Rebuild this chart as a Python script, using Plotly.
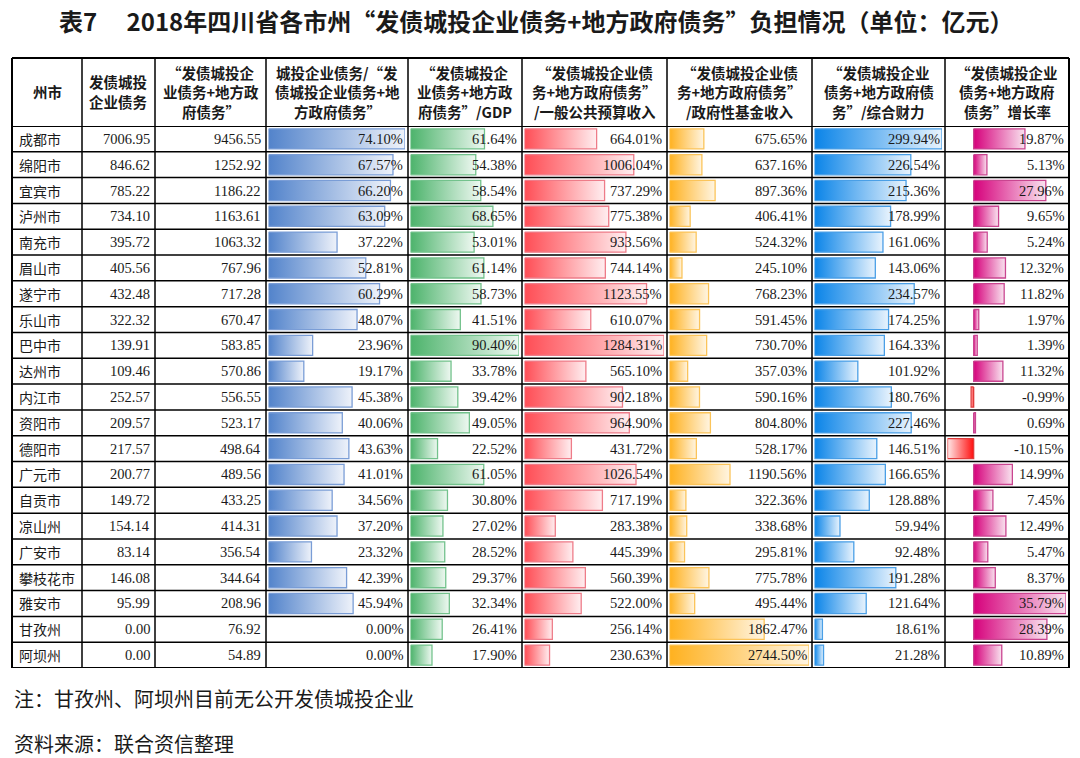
import plotly.graph_objects as go

# ---------------- data ----------------
cities = ["成都市", "绵阳市", "宜宾市", "泸州市", "南充市", "眉山市", "遂宁市", "乐山市", "巴中市", "达州市",
          "内江市", "资阳市", "德阳市", "广元市", "自贡市", "凉山州", "广安市", "攀枝花市", "雅安市", "甘孜州", "阿坝州"]
chengtou_debt = [7006.95, 846.62, 785.22, 734.10, 395.72, 405.56, 432.48, 322.32, 139.91, 109.46,
                 252.57, 209.57, 217.57, 200.77, 149.72, 154.14, 83.14, 146.08, 95.99, 0.00, 0.00]
total_debt = [9456.55, 1252.92, 1186.22, 1163.61, 1063.32, 767.96, 717.28, 670.47, 583.85, 570.86,
              556.55, 523.17, 498.64, 489.56, 433.25, 414.31, 356.54, 344.64, 208.96, 76.92, 54.89]
share_pct = [74.10, 67.57, 66.20, 63.09, 37.22, 52.81, 60.29, 48.07, 23.96, 19.17,
             45.38, 40.06, 43.63, 41.01, 34.56, 37.20, 23.32, 42.39, 45.94, 0.00, 0.00]
gdp_pct = [61.64, 54.38, 58.54, 68.65, 53.01, 61.14, 58.73, 41.51, 90.40, 33.78,
           39.42, 49.05, 22.52, 61.05, 30.80, 27.02, 28.52, 29.37, 32.34, 26.41, 17.90]
budget_pct = [664.01, 1006.04, 737.29, 775.38, 933.56, 744.14, 1123.55, 610.07, 1284.31, 565.10,
              902.18, 964.90, 431.72, 1026.54, 717.19, 283.38, 445.39, 560.39, 522.00, 256.14, 230.63]
fund_pct = [675.65, 637.16, 897.36, 406.41, 524.32, 245.10, 768.23, 591.45, 730.70, 357.03,
            590.16, 804.80, 528.17, 1190.56, 322.36, 338.68, 295.81, 775.78, 495.44, 1862.47, 2744.50]
fiscal_pct = [299.94, 226.54, 215.36, 178.99, 161.06, 143.06, 234.57, 174.25, 164.33, 101.92,
              180.76, 227.46, 146.51, 166.65, 128.88, 59.94, 92.48, 191.28, 121.64, 18.61, 21.28]
growth_pct = [19.87, 5.13, 27.96, 9.65, 5.24, 12.32, 11.82, 1.97, 1.39, 11.32,
              -0.99, 0.69, -10.15, 14.99, 7.45, 12.49, 5.47, 8.37, 35.79, 28.39, 10.89]

headers = [
    ["州市"],
    ["发债城投", "企业债务"],
    ["“发债城投企", "业债务+地方政", "府债务”"],
    ["城投企业债务/“发", "债城投企业债务+地", "方政府债务”"],
    ["“发债城投企", "业债务+地方政", "府债务”/GDP"],
    ["“发债城投企业债", "务+地方政府债务”", "/一般公共预算收入"],
    ["“发债城投企业债", "务+地方政府债务”", "/政府性基金收入"],
    ["“发债城投企业", "债务+地方政府债", "务”/综合财力"],
    ["“发债城投企业", "债务+地方政府", "债务”增长率"],
]
title_text = "表7　 2018年四川省各市州“发债城投企业债务+地方政府债务”负担情况（单位：亿元）"
note_text = "注：甘孜州、阿坝州目前无公开发债城投企业"
source_text = "资料来源：联合资信整理"

# ---------------- geometry / style ----------------
W, H = 1080, 758
COLS = [12, 82, 155, 266, 408, 522, 667, 812, 945, 1069]
HEAD_TOP, HEAD_BOT, TABLE_BOT = 58, 126, 668
HEAD_LINE_GAP = 19.5


def px(x):
    return x / W


def py(y):
    return 1 - y / H


SERIF = "Liberation Serif, Noto Sans CJK SC"
CJK = "Noto Sans CJK SC"
TXT = "#1a1a1a"

bar_cols = [
    # (values, column index, left colour, right colour, border colour)
    (share_pct, 3, "#5283cb", "#eef2fa", "#7a9dd6"),
    (gdp_pct, 4, "#4cb36b", "#eef8f1", "#73c28c"),
    (budget_pct, 5, "#ff4d55", "#ffeef0", "#ee7c89"),
    (fund_pct, 6, "#ffb11f", "#fff5e2", "#fbc45a"),
    (fiscal_pct, 7, "#0a84e8", "#e8f3fd", "#4a9fe6"),
    (growth_pct, 8, "#d6007b", "#f9e3ef", "#c94590"),
]
NEG = ("#ffe8e8", "#ff1010", "#e03a3a")

n = len(cities)
HALF = 0.39

fig = go.Figure()
layout_axes = {}

for k, (vals, ci, c_left, c_right, c_border) in enumerate(bar_cols):
    ax_id = k + 1
    xname = "x" if ax_id == 1 else f"x{ax_id}"
    lo = min(0, min(vals))
    hi = max(vals)
    left = COLS[ci] + 2.5
    right = COLS[ci + 1] - 3
    layout_axes["xaxis" if ax_id == 1 else f"xaxis{ax_id}"] = dict(
        domain=[px(left), px(right)], range=[lo, hi], visible=False, fixedrange=True, anchor="y")
    for i, v in enumerate(vals):
        if v == 0:
            continue
        if v > 0:
            cs = [[0, c_left], [1, c_right]]
            border = c_border
        else:
            cs = [[0, NEG[0]], [1, NEG[1]]]
            border = NEG[2]
        fig.add_trace(go.Scatter(
            x=[0, v, v, 0, 0],
            y=[i - HALF, i - HALF, i + HALF, i + HALF, i - HALF],
            xaxis=xname, yaxis="y",
            mode="lines", fill="toself",
            fillgradient=dict(type="horizontal", colorscale=cs),
            line=dict(color=border, width=1.3),
            hoverinfo="skip", showlegend=False,
        ))

annotations = []

# title
annotations.append(dict(x=px(536), y=py(20), xref="paper", yref="paper", text=title_text,
                        showarrow=False, xanchor="center", yanchor="middle",
                        font=dict(family=CJK, size=24, color=TXT, weight="bold")))
# headers (one annotation per line)
head_mid = (HEAD_TOP + HEAD_BOT) / 2 - 0.5
for c, lines in enumerate(headers):
    nl = len(lines)
    for li, ltxt in enumerate(lines):
        yc = head_mid + (li - (nl - 1) / 2) * HEAD_LINE_GAP
        annotations.append(dict(x=px((COLS[c] + COLS[c + 1]) / 2), y=py(yc),
                                xref="paper", yref="paper", text=ltxt, showarrow=False,
                                xanchor="center", yanchor="middle", align="center",
                                font=dict(family=CJK, size=14.5, color=TXT, weight="bold")))

# body
columns_text = [
    [f"{v:.2f}" for v in chengtou_debt],
    [f"{v:.2f}" for v in total_debt],
    [f"{v:.2f}%" for v in share_pct],
    [f"{v:.2f}%" for v in gdp_pct],
    [f"{v:.2f}%" for v in budget_pct],
    [f"{v:.2f}%" for v in fund_pct],
    [f"{v:.2f}%" for v in fiscal_pct],
    [f"{v:.2f}%" for v in growth_pct],
]
for i, city in enumerate(cities):
    annotations.append(dict(x=px(COLS[0] + 5), y=i, xref="paper", yref="y", text=city,
                            showarrow=False, xanchor="left", yanchor="middle",
                            font=dict(family=CJK, size=14, color=TXT)))
    for c, texts in enumerate(columns_text):
        annotations.append(dict(x=px(COLS[c + 2] - 3), y=i, xref="paper", yref="y", text=texts[i],
                                showarrow=False, xanchor="right", yanchor="middle",
                                font=dict(family=SERIF, size=14.5, color=TXT)))

# notes
annotations.append(dict(x=px(12), y=py(698), xref="paper", yref="paper", text=note_text,
                        showarrow=False, xanchor="left", yanchor="middle",
                        font=dict(family=CJK, size=20, color=TXT)))
annotations.append(dict(x=px(12), y=py(743), xref="paper", yref="paper", text=source_text,
                        showarrow=False, xanchor="left", yanchor="middle",
                        font=dict(family=CJK, size=20, color=TXT)))

# grid lines
shapes = []
for j, xc in enumerate(COLS):
    wdt = 2 if j in (0, len(COLS) - 1) else 1.5
    shapes.append(dict(type="line", xref="paper", yref="paper", x0=px(xc), x1=px(xc),
                       y0=py(HEAD_TOP), y1=py(TABLE_BOT), line=dict(color="black", width=wdt)))
shapes.append(dict(type="line", xref="paper", yref="paper", x0=px(COLS[0]), x1=px(COLS[-1]),
                   y0=py(HEAD_TOP), y1=py(HEAD_TOP), line=dict(color="black", width=2)))
for i in range(n + 1):
    wdt = 2 if i in (0, n) else 1.5
    shapes.append(dict(type="line", xref="paper", yref="y", x0=px(COLS[0]), x1=px(COLS[-1]),
                       y0=i - 0.5, y1=i - 0.5, line=dict(color="black", width=wdt)))

fig.update_layout(
    width=W, height=H,
    margin=dict(l=0, r=0, t=0, b=0),
    paper_bgcolor="white", plot_bgcolor="rgba(0,0,0,0)",
    showlegend=False,
    yaxis=dict(domain=[py(TABLE_BOT), py(HEAD_BOT)], range=[n - 0.5, -0.5],
               visible=False, fixedrange=True, anchor="x"),
    annotations=annotations,
    shapes=shapes,
    **layout_axes,
)

fig.write_html("out.html", config={"displayModeBar": False},
               post_script="document.body.style.margin='0px';document.body.style.overflow='hidden';")
